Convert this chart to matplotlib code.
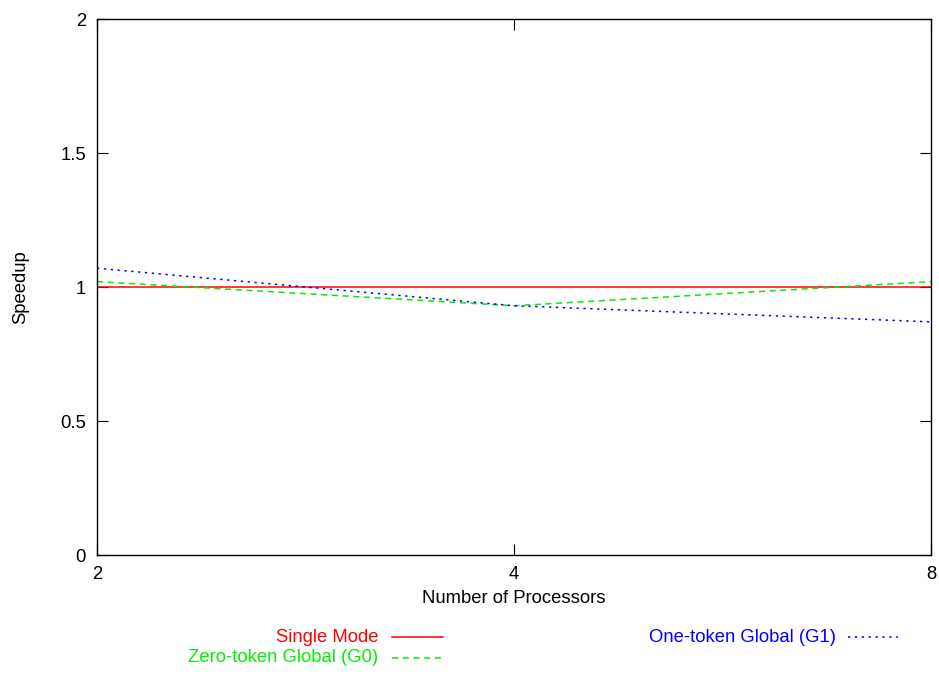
import matplotlib.pyplot as plt
from matplotlib.lines import Line2D

plt.rcParams['font.family'] = ['Liberation Sans', 'DejaVu Sans']

procs = [2, 4, 8]
single_mode = [1.0, 1.0, 1.0]
zero_token = [1.02, 0.93, 1.02]
one_token = [1.07, 0.93, 0.87]

fs = 13.3

fig = plt.figure(figsize=(9.39, 6.75), dpi=100)
ax = fig.add_axes([97/939, 1 - 555/675, (931 - 97)/939, (555 - 19)/675])

ax.plot(procs, single_mode, color='#ff0000', lw=1.1, linestyle='-')
ax.plot(procs, zero_token, color='#00ee00', lw=1.1, linestyle=(0, (4, 3)))
ax.plot(procs, one_token, color='#0000ff', lw=1.1, linestyle=(0, (1.5, 3)))

ax.set_xscale('log', base=2)
ax.set_xlim(2, 8)
ax.set_ylim(0, 2)
ax.set_xticks(procs)
ax.set_xticklabels(['2', '4', '8'])
ax.minorticks_off()
ax.set_yticks([0, 0.5, 1, 1.5, 2])
ax.set_yticklabels(['0', '0.5', '1', '1.5', '2'])
ax.tick_params(direction='in', top=True, right=True, labelsize=fs, length=8, pad=8)
for s in ax.spines.values():
    s.set_linewidth(1.0)

ax.set_xlabel('Number of Processors', fontsize=fs, labelpad=5)
ax.set_ylabel('Speedup', fontsize=fs)
ax.yaxis.set_label_coords(-(97 - 29)/834, 0.5)

# legend below the plot, gnuplot style
y1 = 1 - 637/675
y2 = 1 - 658/675
fig.text(378/939, y1, 'Single Mode', color='#ff0000', fontsize=fs, ha='right', va='center')
fig.add_artist(Line2D([392/939, 443/939], [y1, y1], color='#ff0000', lw=1.1))
fig.text(378/939, y2, 'Zero-token Global (G0)', color='#00ee00', fontsize=fs, ha='right', va='center')
fig.add_artist(Line2D([392/939, 443/939], [y2, y2], color='#00ee00', lw=1.1, linestyle=(0, (4, 3))))
fig.text(836/939, y1, 'One-token Global (G1)', color='#0000ff', fontsize=fs, ha='right', va='center')
fig.add_artist(Line2D([848/939, 898/939], [y1, y1], color='#0000ff', lw=1.1, linestyle=(0, (1.5, 3))))

fig.savefig('out.png', dpi=100)
